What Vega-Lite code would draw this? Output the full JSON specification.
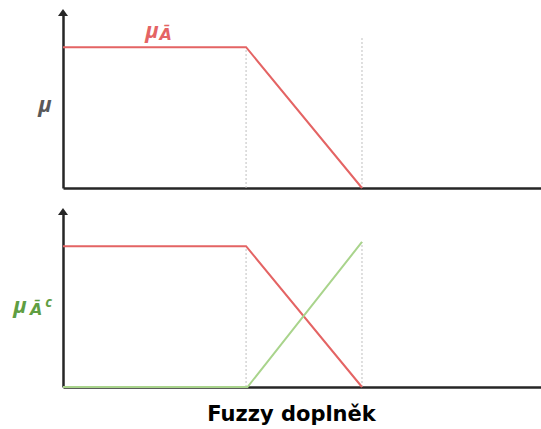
{
  "$schema": "https://vega.github.io/schema/vega-lite/v6.json",
  "padding": {"left": 13, "top": 9, "right": 0, "bottom": 5},
  "background": "white",
  "config": {
    "view": {"stroke": null},
    "concat": {"spacing": 16},
    "axis": {"domainColor": "#262626", "domainWidth": 2.5, "ticks": false, "labels": false, "grid": false, "title": null}
  },
  "datasets": {
    "top_lines": [
      {"x": 0, "mu": 1, "series": "A"},
      {"x": 38.3, "mu": 1, "series": "A"},
      {"x": 62.55, "mu": 0, "series": "A"}
    ],
    "bottom_lines": [
      {"x": 0, "mu": 1, "series": "A"},
      {"x": 38.3, "mu": 1, "series": "A"},
      {"x": 62.55, "mu": 0, "series": "A"},
      {"x": 0, "mu": 0, "series": "Ac"},
      {"x": 38.6, "mu": 0, "series": "Ac"},
      {"x": 62.55, "mu": 1.03, "series": "Ac"}
    ],
    "top_guides": [
      {"x": 38.3, "y0": 0, "y1": 1},
      {"x": 62.55, "y0": 0, "y1": 1.065}
    ],
    "bottom_guides": [
      {"x": 38.3, "y0": 0, "y1": 1},
      {"x": 62.55, "y0": 0, "y1": 1.03}
    ],
    "arrow": [{"x": 0, "y": 1.25}]
  },
  "vconcat": [
    {
      "width": 478,
      "height": 176,
      "encoding": {
        "x": {"type": "quantitative", "scale": {"domain": [0, 100]}, "axis": {}},
        "y": {"type": "quantitative", "scale": {"domain": [0, 1.25]}, "axis": {}}
      },
      "layer": [
        {
          "data": {"name": "top_guides"},
          "mark": {"type": "rule", "stroke": "#bfbfbf", "strokeWidth": 1, "strokeDash": [2, 2]},
          "encoding": {"x": {"field": "x"}, "y": {"field": "y0"}, "y2": {"field": "y1"}}
        },
        {
          "data": {"name": "top_lines"},
          "mark": {"type": "line", "stroke": "#e46464", "strokeWidth": 2},
          "encoding": {"x": {"field": "x"}, "y": {"field": "mu"}}
        },
        {
          "data": {"name": "arrow"},
          "mark": {"type": "point", "shape": "M0,-0.6L1,0.8L-1,0.8Z", "filled": true, "size": 100, "color": "#262626", "opacity": 1, "clip": false},
          "encoding": {"x": {"field": "x"}, "y": {"field": "y"}}
        },
        {
          "data": {"values": [{"x": -3.77, "y": 0.589, "t": "μ"}]},
          "mark": {"type": "text", "font": "Open Sans", "fontStyle": "italic", "fontWeight": "bold", "fontSize": 22, "color": "#595959", "baseline": "middle", "align": "center", "clip": false},
          "encoding": {"x": {"field": "x"}, "y": {"field": "y"}, "text": {"field": "t"}}
        },
        {
          "data": {"values": [{"x": 18.6, "y": 1.115, "t": "μ"}]},
          "mark": {"type": "text", "font": "Open Sans", "fontStyle": "italic", "fontWeight": "bold", "fontSize": 22, "color": "#e46464", "baseline": "middle", "align": "center"},
          "encoding": {"x": {"field": "x"}, "y": {"field": "y"}, "text": {"field": "t"}}
        },
        {
          "data": {"values": [{"x": 21.5, "y": 1.085, "t": "Ā"}]},
          "mark": {"type": "text", "font": "DejaVu Sans", "fontStyle": "italic", "fontWeight": "bold", "fontSize": 16, "color": "#e46464", "baseline": "middle", "align": "center"},
          "encoding": {"x": {"field": "x"}, "y": {"field": "y"}, "text": {"field": "t"}}
        }
      ]
    },
    {
      "width": 478,
      "height": 176,
      "encoding": {
        "x": {"type": "quantitative", "scale": {"domain": [0, 100]}, "axis": {"title": "Fuzzy doplněk", "titleFont": "DejaVu Sans", "titleFontWeight": "bold", "titleFontSize": 21, "titleColor": "#000000", "titlePadding": 16, "titleX": 228, "titleAlign": "center"}},
        "y": {"type": "quantitative", "scale": {"domain": [0, 1.25]}, "axis": {}}
      },
      "layer": [
        {
          "data": {"name": "bottom_guides"},
          "mark": {"type": "rule", "stroke": "#bfbfbf", "strokeWidth": 1, "strokeDash": [2, 2]},
          "encoding": {"x": {"field": "x"}, "y": {"field": "y0"}, "y2": {"field": "y1"}}
        },
        {
          "data": {"name": "bottom_lines"},
          "mark": {"type": "line", "strokeWidth": 2, "clip": false},
          "encoding": {
            "x": {"field": "x"},
            "y": {"field": "mu"},
            "color": {"field": "series", "type": "nominal", "scale": {"domain": ["A", "Ac"], "range": ["#e46464", "#a9d48c"]}, "legend": null}
          }
        },
        {
          "data": {"name": "arrow"},
          "mark": {"type": "point", "shape": "M0,-0.6L1,0.8L-1,0.8Z", "filled": true, "size": 100, "color": "#262626", "opacity": 1, "clip": false},
          "encoding": {"x": {"field": "x"}, "y": {"field": "y"}}
        },
        {
          "data": {"values": [{"x": -9.0, "y": 0.575, "t": "μ"}]},
          "mark": {"type": "text", "font": "Open Sans", "fontStyle": "italic", "fontWeight": "bold", "fontSize": 22, "color": "#5f9e42", "baseline": "middle", "align": "center"},
          "encoding": {"x": {"field": "x"}, "y": {"field": "y"}, "text": {"field": "t"}}
        },
        {
          "data": {"values": [{"x": -5.6, "y": 0.545, "t": "Ā"}]},
          "mark": {"type": "text", "font": "DejaVu Sans", "fontStyle": "italic", "fontWeight": "bold", "fontSize": 16, "color": "#5f9e42", "baseline": "middle", "align": "center"},
          "encoding": {"x": {"field": "x"}, "y": {"field": "y"}, "text": {"field": "t"}}
        },
        {
          "data": {"values": [{"x": -3.0, "y": 0.6, "t": "c"}]},
          "mark": {"type": "text", "font": "Open Sans", "fontStyle": "italic", "fontWeight": "bold", "fontSize": 14, "color": "#5f9e42", "baseline": "middle", "align": "center"},
          "encoding": {"x": {"field": "x"}, "y": {"field": "y"}, "text": {"field": "t"}}
        }
      ]
    }
  ]
}
